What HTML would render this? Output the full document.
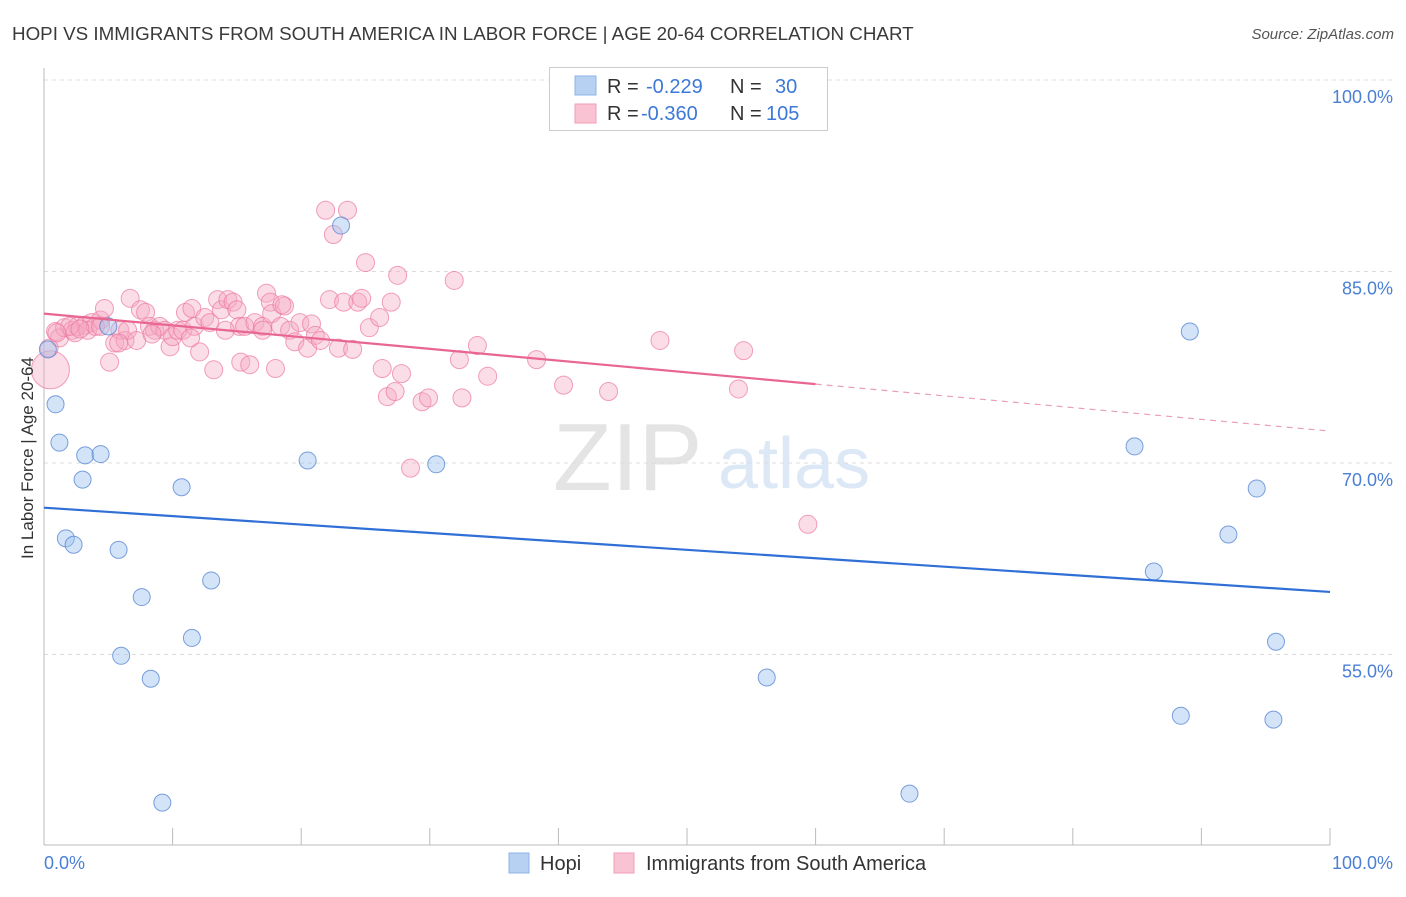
<!DOCTYPE html>
<html><head><meta charset="utf-8"><style>
body{margin:0;background:#fff;font-family:"Liberation Sans",sans-serif}
svg text{font-family:"Liberation Sans",sans-serif}
</style></head><body>
<svg id="chart" width="1406" height="892">
<text x="12" y="40" font-size="18.8" fill="#3a3a3a">HOPI VS IMMIGRANTS FROM SOUTH AMERICA IN LABOR FORCE | AGE 20-64 CORRELATION CHART</text>
<text x="1394" y="39" font-size="15" fill="#555" font-style="italic" text-anchor="end">Source: ZipAtlas.com</text>
<g>
<text x="553" y="490" font-size="96" fill="#e4e4e4" font-family="Liberation Serif, serif">ZIP</text>
<text x="718" y="488" font-size="72" fill="#dce8f6">atlas</text>
</g>
<g id="grid"></g>
<g id="pink"></g>
<g id="blue"></g>
<g id="lines"></g>
<text x="33" y="458" font-size="17" fill="#333" transform="rotate(-90 33 458)" text-anchor="middle">In Labor Force | Age 20-64</text>
<text x="44" y="869" font-size="18" fill="#4a7fd4">0.0%</text>
<text x="1393" y="869" font-size="18" fill="#4a7fd4" text-anchor="end">100.0%</text>
<g>
<rect x="549.5" y="67.5" width="278" height="63" fill="#fff" stroke="#ccc"/>
<rect x="575" y="76" width="21" height="19" fill="#b7d1f2" stroke="#8db4e8"/>
<rect x="575" y="104" width="21" height="19" fill="#f9c3d3" stroke="#f09cb7"/>
<text x="607" y="93" font-size="20" fill="#333">R = </text><text x="646" y="93" font-size="20" fill="#3c78d8">-0.229</text>
<text x="730" y="93" font-size="20" fill="#333">N = </text><text x="775" y="93" font-size="20" fill="#3c78d8">30</text>
<text x="607" y="120" font-size="20" fill="#333">R = </text><text x="641" y="120" font-size="20" fill="#3c78d8">-0.360</text>
<text x="730" y="120" font-size="20" fill="#333">N = </text><text x="766" y="120" font-size="20" fill="#3c78d8">105</text>
</g>
<g>
<rect x="509" y="853" width="20" height="20" fill="#b7d1f2" stroke="#8db4e8"/>
<text x="540" y="870" font-size="20" fill="#333">Hopi</text>
<rect x="614" y="853" width="20" height="20" fill="#f9c3d3" stroke="#f09cb7"/>
<text x="646" y="870" font-size="20" fill="#333">Immigrants from South America</text>
</g>
</svg>
<script>
const hopiX=[0.3,0.9,1.2,3.2,4.4,3.0,1.7,2.3,5.8,7.6,6.0,8.3,11.5,13.0,10.7,20.5,23.1,30.5,9.2,5.0,89.1,84.8,94.3,92.1,86.3,95.8,56.2,88.4,95.6,67.3];
const hopiY=[78.9,74.6,71.6,70.6,70.7,68.7,64.1,63.6,63.2,59.5,54.9,53.1,56.3,60.8,68.1,70.2,88.6,69.9,43.4,80.7,80.3,71.3,68.0,64.4,61.5,56.0,53.2,50.2,49.9,44.1];
const immX=[0.5,0.9,1.2,1.6,2.2,2.6,3.2,3.7,4.4,2.4,3.4,4.0,4.7,5.1,5.5,5.9,6.3,6.5,6.7,7.2,7.5,7.9,8.2,8.6,9.0,9.4,9.8,10.0,10.4,10.8,11.0,11.5,11.7,12.1,12.5,12.9,13.2,13.5,13.8,14.3,14.7,15.0,15.2,15.6,15.3,16.0,16.4,17.0,17.3,17.6,17.7,18.0,18.4,18.7,19.1,19.5,19.9,20.5,20.8,21.1,21.5,21.9,22.2,22.5,22.9,23.3,23.6,24.0,24.4,24.7,25.0,25.3,26.1,26.3,26.7,27.0,27.3,27.5,27.8,28.5,29.4,29.9,31.9,32.3,32.5,33.7,34.5,38.3,40.4,43.9,47.9,54.0,54.4,59.4,18.5,17.0,14.1,11.4,8.4,5.8,2.0,4.4,0.4,1.0,2.8];
const immY=[77.3,80.3,79.8,80.6,80.4,80.7,80.8,81.0,81.2,80.2,80.4,80.7,82.1,77.9,79.4,80.4,79.6,80.4,82.9,79.6,82.0,81.8,80.7,80.4,80.7,80.4,79.1,79.9,80.4,80.4,81.8,82.1,80.7,78.7,81.4,81.0,77.3,82.8,82.0,82.8,82.6,82.0,80.7,80.7,77.9,77.7,81.0,80.7,83.3,82.6,81.7,77.4,80.7,82.3,80.4,79.5,81.0,79.0,80.9,80.0,79.6,89.8,82.8,87.9,79.0,82.6,89.8,78.9,82.6,82.9,85.7,80.6,81.4,77.4,75.2,82.6,75.6,84.7,77.0,69.6,74.8,75.1,84.3,78.1,75.1,79.2,76.8,78.1,76.1,75.6,79.6,75.8,78.8,65.2,82.4,80.4,80.4,79.8,80.1,79.4,80.7,80.7,79.0,80.2,80.5];
const yTicks=[100,85,70,55];
const yTickLabels=["100.0%","85.0%","70.0%","55.0%"];
const xTicks=[0,10,20,30,40,50,60,70,80,90,100];
const blueTrend=[66.5,59.9];
const pinkTrend=[81.7,72.5];
const pinkSolidEnd=60;

const X=v=>44+v*12.86;
const Y=v=>80+(100-v)*12.767;
const NS="http://www.w3.org/2000/svg";
function mk(tag,attrs,parent){const e=document.createElementNS(NS,tag);for(const k in attrs)e.setAttribute(k,attrs[k]);parent.appendChild(e);return e;}
const grid=document.getElementById('grid');
yTicks.forEach((t,i)=>{
  const l=mk('line',{x1:44,x2:1394,y1:Y(t),y2:Y(t),stroke:'#dcdcdc','stroke-dasharray':'4,4'},grid);
  
  
  const tx=mk('text',{x:1393,y:Y(t)+23,'font-size':18,fill:'#4a7fd4','text-anchor':'end'},grid);
  tx.textContent=yTickLabels[i];
  
  
});
const ax=mk('line',{x1:44,x2:44,y1:68,y2:845,stroke:'#bbb'},grid);


const bx=mk('line',{x1:44,x2:1330,y1:845,y2:845,stroke:'#bbb'},grid);


xTicks.forEach(t=>{
  const l=mk('line',{x1:X(t),x2:X(t),y1:828,y2:845,stroke:'#bbb'},grid);
  
  
});
const pink=document.getElementById('pink');
immX.forEach((x,i)=>{
  const c=mk('circle',{cx:X(x),cy:Y(immY[i]),r:i==0?19:9,fill:'rgba(246,170,195,0.4)',stroke:'rgba(236,120,160,0.7)','stroke-width':1},pink);
  
  
});
const blue=document.getElementById('blue');
hopiX.forEach((x,i)=>{
  const c=mk('circle',{cx:X(x),cy:Y(hopiY[i]),r:8.5,fill:'rgba(160,196,240,0.45)',stroke:'rgba(80,130,210,0.75)','stroke-width':1},blue);
  
  
});
const lines=document.getElementById('lines');
const bl=mk('line',{x1:X(0),y1:Y(blueTrend[0]),x2:X(100),y2:Y(blueTrend[1]),stroke:'#2f6fd6','stroke-width':2.2},lines);


const pm=pinkTrend[0]+(pinkTrend[1]-pinkTrend[0])*pinkSolidEnd/100;
const pl=mk('line',{x1:X(0),y1:Y(pinkTrend[0]),x2:X(pinkSolidEnd),y2:Y(pm),stroke:'#e8668f','stroke-width':2.2},lines);


const pd=mk('line',{x1:X(pinkSolidEnd),y1:Y(pm),x2:X(100),y2:Y(pinkTrend[1]),stroke:'#e8a0b8','stroke-width':1.2,'stroke-dasharray':'6,5'},lines);


</script>
</body></html>
